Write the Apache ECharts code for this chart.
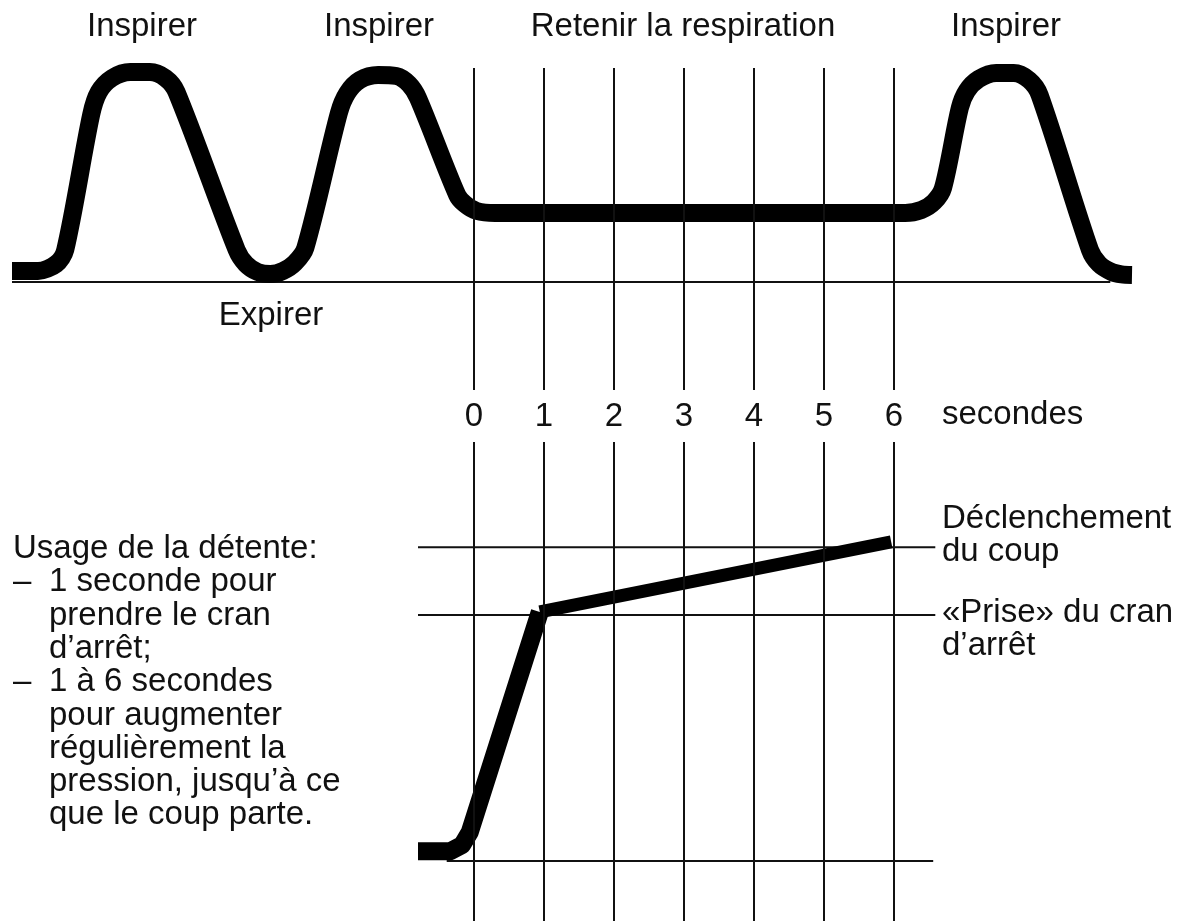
<!DOCTYPE html>
<html>
<head>
<meta charset="utf-8">
<title>Respiration et détente</title>
<script src="https://cdn.jsdelivr.net/npm/echarts@6/dist/echarts.min.js"></script>
<style>
  html, body { margin: 0; padding: 0; background: #fff; }
  #chart { width: 1181px; height: 921px; }
</style>
</head>
<body>
<div id="chart"></div>
<script>
// temps en secondes (0 = début de l'apnée), valeurs relatives
var secondTicks = [0, 1, 2, 3, 4, 5, 6];

// courbe de respiration (volume relatif, 0 = ligne de base)
var breathX = [-6.6, -6.23, -5.97, -5.84, -5.47, -5.36, -5.17, -4.91, -4.63, -4.41, -4.25,
  -3.39, -3.26, -3.09, -2.91, -2.73, -2.56, -2.41,
  -1.93, -1.81, -1.63, -1.37, -1.11, -0.93, -0.8,
  -0.24, -0.13, 0.04, 0.3,
  6.16, 6.39, 6.57, 6.7, 6.94, 7.04, 7.21, 7.46, 7.71, 7.93, 8.08,
  8.8, 8.93, 9.11, 9.25, 9.4];
var breathY = [0.55, 0.55, 0.9, 1.6, 8.35, 9.5, 10.2, 10.5, 10.5, 10.2, 9.5,
  1.6, 0.9, 0.5, 0.4, 0.55, 0.95, 1.7,
  8.45, 9.45, 10.1, 10.35, 10.3, 9.9, 9.2,
  4.35, 3.9, 3.55, 3.45,
  3.45, 3.6, 4.0, 4.7, 8.7, 9.55, 10.15, 10.45, 10.45, 10.1, 9.35,
  1.6, 0.9, 0.5, 0.38, 0.35];
var breathBase = [-6.6, 9.09];

// pression sur la détente : montée jusqu'au cran, puis pression régulière
var riseX = [-0.8, -0.34, -0.17, -0.06, 0.94];
var riseY = [0.16, 0.16, 0.26, 0.47, 4.05];
var squeezeX = [0.94, 5.96];
var squeezeY = [4.05, 5.19];

// niveaux repères : départ, « prise » du cran d'arrêt, déclenchement
var levelNames = ['base', 'prise', 'declenchement'];
var levelValues = [0, 4, 5.1];
var levelStart = [-0.39, -0.8, -0.8];
var levelEnd = [6.56, 6.59, 6.59];

var FONT = '"Liberation Sans", Arial, sans-serif';
var INK = '#111';

function pairs(xs, ys) {
  return xs.map(function (x, i) { return [x, ys[i]]; });
}

function gridLines() {
  return {
    silent: true,
    symbol: ['none', 'none'],
    label: { show: false },
    lineStyle: { color: INK, width: 2, type: 'solid' },
    emphasis: { disabled: true },
    animation: false,
    data: secondTicks.map(function (s) { return { xAxis: s }; })
  };
}

var chart = echarts.init(document.getElementById('chart'));

var series = [
  {
    name: 'ligne respiration',
    type: 'line',
    xAxisIndex: 0, yAxisIndex: 0,
    data: [[breathBase[0], 0], [breathBase[1], 0]],
    symbol: 'none',
    lineStyle: { color: INK, width: 2 },
    markLine: gridLines(),
    z: 1
  },
  {
    name: 'respiration',
    type: 'line',
    xAxisIndex: 0, yAxisIndex: 0,
    data: pairs(breathX, breathY),
    symbol: 'none',
    smooth: 0.3,
    lineStyle: { color: '#000', width: 18, cap: 'butt', join: 'round' },
    z: 3
  }
];

levelNames.forEach(function (n, i) {
  var s = {
    name: n,
    type: 'line',
    xAxisIndex: 1, yAxisIndex: 1,
    data: [[levelStart[i], levelValues[i]], [levelEnd[i], levelValues[i]]],
    symbol: 'none',
    lineStyle: { color: INK, width: 2 },
    z: 1
  };
  if (i === 0) s.markLine = gridLines();
  series.push(s);
});

series.push({
  name: 'montée',
  type: 'line',
  xAxisIndex: 1, yAxisIndex: 1,
  data: pairs(riseX, riseY),
  symbol: 'none',
  lineStyle: { color: '#000', width: 18, cap: 'butt', join: 'round' },
  z: 3
});
series.push({
  name: 'pression',
  type: 'line',
  xAxisIndex: 1, yAxisIndex: 1,
  data: pairs(squeezeX, squeezeY),
  symbol: 'none',
  lineStyle: { color: '#000', width: 13, cap: 'butt' },
  z: 3
});

function txt(str, x, y, align) {
  return {
    type: 'text',
    x: x, y: y,
    style: {
      text: str,
      fill: INK,
      font: '33px ' + FONT,
      textAlign: align || 'left',
      textVerticalAlign: 'middle'
    }
  };
}

var leftLines = [
  ['', 'Usage de la détente:'],
  ['–', '1 seconde pour'],
  ['', 'prendre le cran'],
  ['', 'd’arrêt;'],
  ['–', '1 à 6 secondes'],
  ['', 'pour augmenter'],
  ['', 'régulièrement la'],
  ['', 'pression, jusqu’à ce'],
  ['', 'que le coup parte.']
];

var graphics = [
  txt('Inspirer', 142, 27, 'center'),
  txt('Inspirer', 379, 27, 'center'),
  txt('Retenir la respiration', 683, 27, 'center'),
  txt('Inspirer', 1006, 27, 'center'),
  txt('Expirer', 271, 316, 'center'),
  txt('secondes', 942, 415),
  txt('Déclenchement', 942, 519),
  txt('du coup', 942, 552),
  txt('«Prise» du cran', 942, 613),
  txt('d’arrêt', 942, 646)
];
leftLines.forEach(function (l, i) {
  var y = 549 + i * 33.3;
  if (i === 0) {
    graphics.push(txt(l[1], 13, y));
  } else {
    if (l[0]) graphics.push(txt(l[0], 13, y));
    graphics.push(txt(l[1], 49, y));
  }
});

chart.setOption({
  backgroundColor: '#fff',
  animation: false,
  grid: [
    { left: 12, width: 1120, top: 68, height: 322 },
    { left: 12, width: 1120, top: 442, height: 479 }
  ],
  xAxis: [
    { gridIndex: 0, type: 'value', min: -6.6, max: 9.4, show: false },
    {
      gridIndex: 1, type: 'value', min: -6.6, max: 9.4, position: 'top',
      axisLine: { show: false }, axisTick: { show: false }, splitLine: { show: false },
      axisLabel: {
        customValues: secondTicks,
        color: INK, fontSize: 33, fontFamily: FONT, margin: 9
      }
    }
  ],
  yAxis: [
    { gridIndex: 0, type: 'value', min: -5.4, max: 10.7, show: false },
    { gridIndex: 1, type: 'value', min: -0.976, max: 6.813, show: false }
  ],
  series: series,
  graphic: graphics
});
</script>
</body>
</html>
